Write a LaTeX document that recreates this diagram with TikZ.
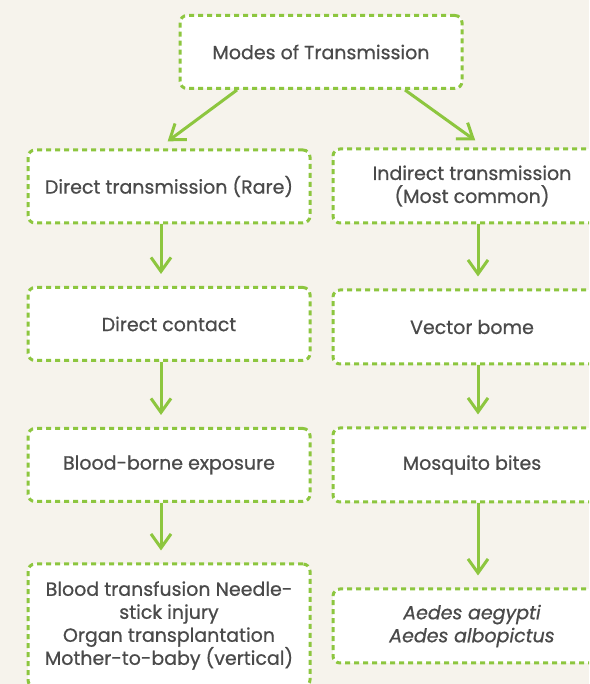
\documentclass[tikz,border=0pt]{standalone}
\usepackage{fontspec}
\setmainfont{Poppins}[FakeBold=0.7]
\usetikzlibrary{arrows.meta}
\definecolor{bg}{HTML}{F6F3EC}
\definecolor{leaf}{HTML}{8DC63F}
\definecolor{ink}{HTML}{4A4A4A}
\tikzset{
  box/.style={draw=leaf, line width=3pt, dash pattern=on 5pt off 4pt,
    rounded corners=7pt, fill=white, text=ink, align=center,
    font=\fontsize{19}{23}\selectfont, inner sep=0pt},
  lbox/.style={box, minimum width=282pt, minimum height=73pt},
  rbox/.style={box, minimum width=278pt, minimum height=74pt},
  arr/.style={draw=leaf, line width=3pt,
    -{Straight Barb[length=14pt,width=20pt,line width=3pt]}, shorten >=12pt}
}
\begin{document}
\begin{tikzpicture}[x=1pt,y=1pt]
  \useasboundingbox (0,0) rectangle (589,684);
  \fill[bg] (0,0) rectangle (589,684);
  \clip (0,0) rectangle (589,684);

  % root
  \node[lbox] (root) at (321,632) {Modes of Transmission};

  % direct route
  \node[lbox] (dir) at (169,497.5) {Direct transmission (Rare)};
  \node[lbox] (con) at (169,360) {Direct contact};
  \node[lbox] (blo) at (169,219) {Blood-borne exposure};
  \node[lbox, minimum height=123pt] (exa) at (169,58.5)
    {Blood transfusion Needle-\\stick injury\\Organ transplantation\\Mother-to-baby (vertical)};

  % indirect route
  \node[rbox] (ind) at (472,498) {Indirect transmission\\(Most common)};
  \node[rbox] (vec) at (472,357) {Vector bome};
  \node[rbox] (mos) at (472,219) {Mosquito bites};
  \node[rbox] (aed) at (472,58) {\itshape Aedes aegypti\\\itshape Aedes albopictus};

  % connectors
  \draw[arr] ([xshift=-84pt]root.south) -- ([xshift=-11pt]dir.north);
  \draw[arr] ([xshift=84pt]root.south) -- ([xshift=13pt]ind.north);
  \draw[arr] ([xshift=-8pt]dir.south) -- ([xshift=-8pt]con.north);
  \draw[arr] ([xshift=-8pt]con.south) -- ([xshift=-8pt]blo.north);
  \draw[arr] ([xshift=-8pt]blo.south) -- ([xshift=-8pt]exa.north);
  \draw[arr] ([xshift=6pt]ind.south) -- ([xshift=6pt]vec.north);
  \draw[arr] ([xshift=6pt]vec.south) -- ([xshift=6pt]mos.north);
  \draw[arr] ([xshift=6pt]mos.south) -- ([xshift=6pt]aed.north);
\end{tikzpicture}
\end{document}
